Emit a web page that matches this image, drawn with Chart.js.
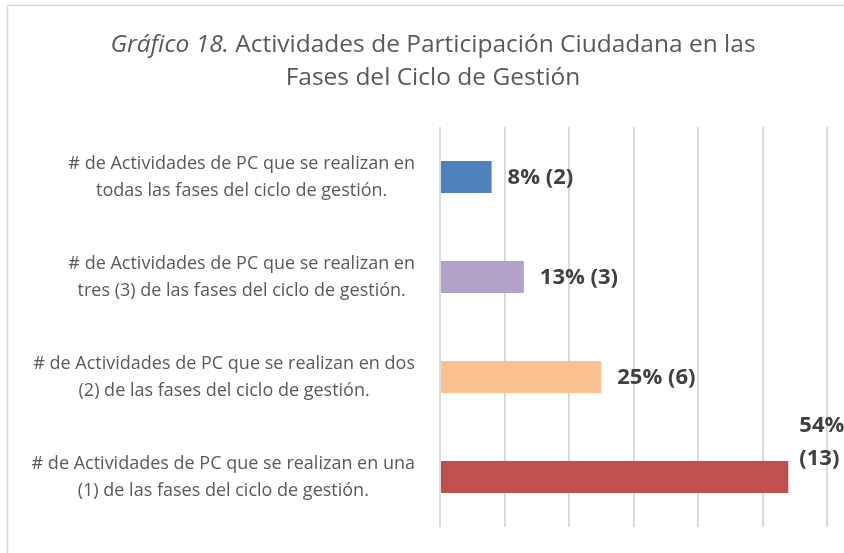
<!DOCTYPE html>
<html>
<head>
<meta charset="utf-8">
<script src="https://cdn.jsdelivr.net/npm/chart.js@4"></script>
<style>
  html, body { margin: 0; padding: 0; background: #fff; }
  #wrap { width: 844px; height: 553px; position: relative; }
</style>
</head>
<body>
<div id="wrap"><canvas id="chart" width="844" height="553"></canvas></div>
<script>
// chart data
const categories = [
    ['# de Actividades de PC que se realizan en', 'todas las fases del ciclo de gestión.'],
    ['# de Actividades de PC que se realizan en', 'tres (3) de las fases del ciclo de gestión.'],
    ['# de Actividades de PC que se realizan en dos', '(2) de las fases del ciclo de gestión.'],
    ['# de Actividades de PC que se realizan en una', '(1) de las fases del ciclo de gestión.']
];
const percentages = [8, 13, 25, 54];
const counts = [2, 3, 6, 13];
const barColors = ['#4f81bd', '#b3a2c7', '#fac090', '#c0504d'];
const titleItalic = 'Gráfico 18.';
const titleLine1 = ' Actividades de Participación Ciudadana en las';
const titleLine2 = 'Fases del Ciclo de Gestión';

const FONT = '"Open Sans", "Liberation Sans", sans-serif';
const textGray = '#595959';

// draws the frame, title, category labels and value labels
const decorations = {
    id: 'decorations',
    beforeDraw(chart) {
        const ctx = chart.ctx;
        ctx.save();
        ctx.strokeStyle = '#d9d9d9';
        ctx.lineWidth = 1.5;
        ctx.beginPath();
        ctx.moveTo(7.5, chart.height);
        ctx.lineTo(7.5, 5.5);
        ctx.lineTo(chart.width, 5.5);
        ctx.stroke();
        ctx.restore();
    },
    afterDraw(chart) {
        const ctx = chart.ctx;
        const area = chart.chartArea;
        const yScale = chart.scales.y;
        ctx.save();

        // title
        ctx.fillStyle = textGray;
        ctx.textBaseline = 'middle';
        const cx = 433;
        ctx.font = 'italic 24.5px ' + FONT;
        const wItalic = ctx.measureText(titleItalic).width;
        ctx.font = '24.5px ' + FONT;
        const wRest = ctx.measureText(titleLine1).width;
        let x0 = cx - (wItalic + wRest) / 2;
        ctx.textAlign = 'left';
        ctx.font = 'italic 24.5px ' + FONT;
        ctx.fillText(titleItalic, x0, 45);
        ctx.font = '24.5px ' + FONT;
        ctx.fillText(titleLine1, x0 + wItalic, 45);
        ctx.textAlign = 'center';
        ctx.fillText(titleLine2, cx, 78);

        // category labels: block right aligned, lines centered
        ctx.font = '18px ' + FONT;
        const right = area.left - 25;
        categories.forEach((lines, i) => {
            const yc = yScale.getPixelForValue(i);
            const blockW = Math.max(...lines.map(l => ctx.measureText(l).width));
            const mid = right - blockW / 2;
            lines.forEach((l, j) => {
                ctx.fillText(l, mid, yc + (j - (lines.length - 1) / 2) * 27);
            });
        });

        // value labels
        ctx.font = 'bold 22px ' + FONT;
        ctx.fillStyle = '#404040';
        ctx.textAlign = 'left';
        const meta = chart.getDatasetMeta(0);
        meta.data.forEach((bar, i) => {
            const text = percentages[i] + '% (' + counts[i] + ')';
            const w = ctx.measureText(text).width;
            if (bar.x + 16 + w <= chart.width) {
                ctx.fillText(text, bar.x + 16, bar.y + 1);
            } else {
                const parts = text.split(' ');
                ctx.fillText(parts[0], bar.x + 11, bar.y - 51);
                ctx.fillText(parts[1], bar.x + 11, bar.y - 18);
            }
        });
        ctx.restore();
    }
};

new Chart(document.getElementById('chart'), {
    type: 'bar',
    data: {
        labels: categories,
        datasets: [{
            data: percentages,
            backgroundColor: barColors,
            borderWidth: 0,
            barPercentage: 0.4,
            categoryPercentage: 0.8
        }]
    },
    options: {
        indexAxis: 'y',
        responsive: false,
        animation: false,
        events: [],
        layout: { padding: { left: 440, right: 17, top: 127, bottom: 26 } },
        plugins: {
            legend: { display: false },
            title: { display: false },
            tooltip: { enabled: false }
        },
        scales: {
            x: {
                min: 0,
                max: 60,
                ticks: { stepSize: 10, display: false },
                grid: { color: '#dadada', lineWidth: 2, drawTicks: false },
                border: { display: false }
            },
            y: { display: false }
        }
    },
    plugins: [decorations]
});
</script>
</body>
</html>
